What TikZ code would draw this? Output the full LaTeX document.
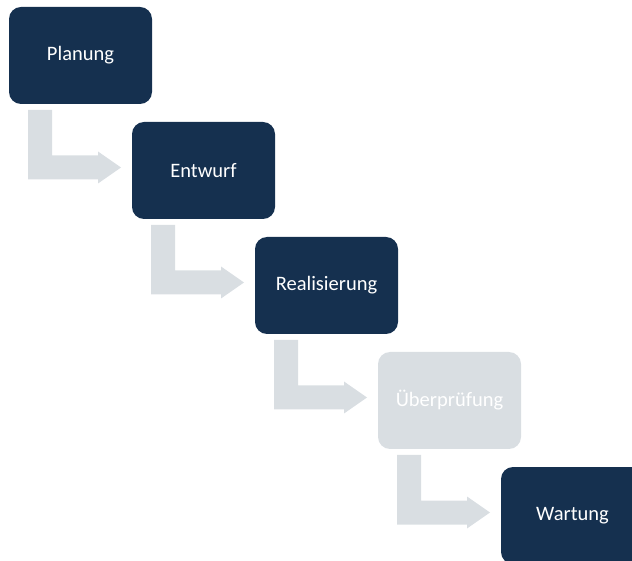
\documentclass[tikz,border=0pt]{standalone}
\usepackage{fontspec}
\setmainfont{Carlito}
\usepackage{xcolor}
\definecolor{navy}{HTML}{15304F}
\definecolor{flowgray}{HTML}{D9DEE2}
\usepackage{tikz}
\usetikzlibrary{positioning,calc}
\newcommand{\stepflow}[2]{%
  \fill[flowgray] let \p1=(#1.south west), \p2=(#2.west) in
    (\x1+19pt,\y1-6pt) -- (\x1+43pt,\y1-6pt) -- (\x1+43pt,\y2+15pt)
    -- (\x2-34pt,\y2+15pt) -- (\x2-34pt,\y2+19pt) -- (\x2-11pt,\y2+3pt)
    -- (\x2-34pt,\y2-13pt) -- (\x2-34pt,\y2-9pt) -- (\x1+19pt,\y2-9pt) -- cycle;}

\begin{document}
\begin{tikzpicture}[
  phase/.style={fill=navy,rounded corners=12pt,text=white,minimum width=143pt,minimum height=97pt,
    inner sep=0pt,outer sep=0pt,font=\fontsize{20.5}{24}\selectfont},
  phasedone/.style={phase,fill=flowgray}]
\useasboundingbox (0,0) rectangle (632pt,560pt);
\node[phase,anchor=north west] (plan) at (9pt,553pt) {Planung};
\node[phase,below right=18pt and -20pt of plan] (design) {Entwurf};
\node[phase,below right=18pt and -20pt of design] (build) {Realisierung};
\node[phasedone,below right=18pt and -20pt of build] (check) {Überprüfung};
\node[phase,below right=18pt and -20pt of check] (maint) {Wartung};
\stepflow{plan}{design}
\stepflow{design}{build}
\stepflow{build}{check}
\stepflow{check}{maint}
\end{tikzpicture}
\end{document}
